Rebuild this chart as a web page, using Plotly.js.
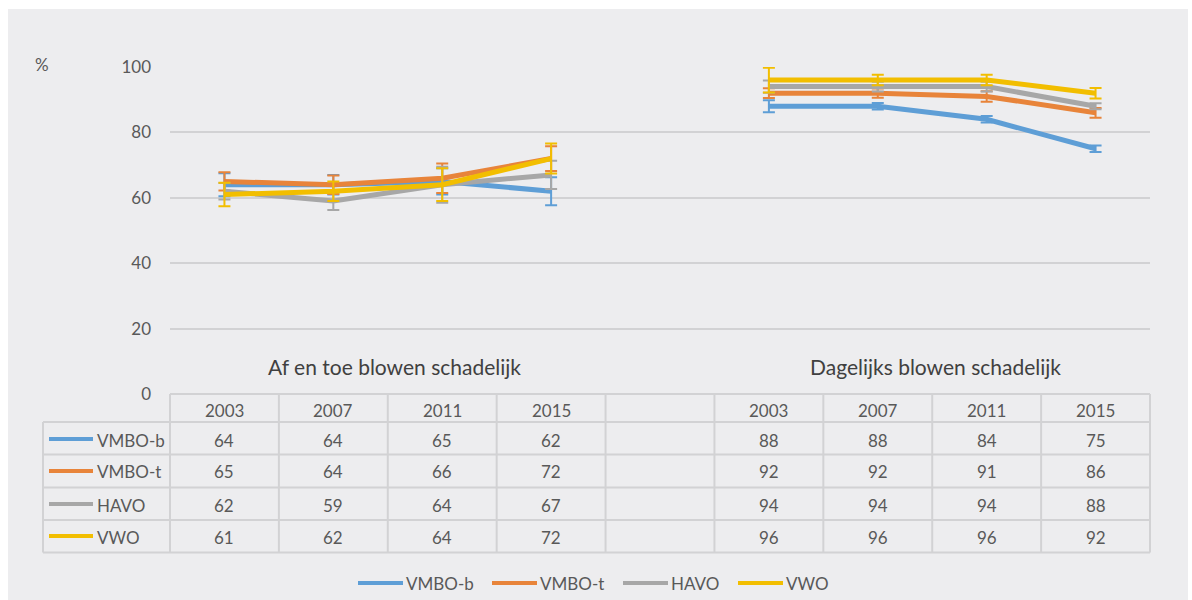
<!DOCTYPE html>
<html><head><meta charset="utf-8">
<script src="https://cdn.plot.ly/plotly-3.0.1.min.js"></script>
<style>html,body{margin:0;padding:0;background:#ffffff;}#chart{position:absolute;left:8px;top:9px;width:1180px;height:591px;}</style>
</head><body><div id="chart"></div>
<script>
// ---- data ----
const years = ['2003', '2007', '2011', '2015'];
const groupLabels = ['Af en toe blowen schadelijk', 'Dagelijks blowen schadelijk'];
const seriesNames = ['VMBO-b', 'VMBO-t', 'HAVO', 'VWO'];

const vmboB_afEnToe = [64, 64, 65, 62];
const vmboB_dagelijks = [88, 88, 84, 75];
const vmboT_afEnToe = [65, 64, 66, 72];
const vmboT_dagelijks = [92, 92, 91, 86];
const havo_afEnToe = [62, 59, 64, 67];
const havo_dagelijks = [94, 94, 94, 88];
const vwo_afEnToe = [61, 62, 64, 72];
const vwo_dagelijks = [96, 96, 96, 92];

const vmboB_errAf = [3.5, 3, 4, 4.3];
const vmboB_errDag = [1.8, 1, 1, 1];
const vmboT_errAf = [2.8, 2.8, 4.5, 3.8];
const vmboT_errDag = [1.5, 1.4, 1.6, 1.5];
const havo_errAf = [2.5, 2.7, 5.5, 4.3];
const havo_errDag = [1.9, 1.5, 1.5, 0.9];
const vwo_errAf = [3.6, 3, 5, 4.6];
const vwo_errDag = [3.8, 1.6, 1.6, 1.6];

const yTicks = [0, 20, 40, 60, 80, 100];

// ---- styles ----
const colors = ['#5E9ED6', '#E8843A', '#A7A7A7', '#F2BE00'];
const FONT = 'Lato, "Open Sans", sans-serif';
const TXT = '#595959';
const GRID = '#D2D2D4';

const afSeries = [vmboB_afEnToe, vmboT_afEnToe, havo_afEnToe, vwo_afEnToe];
const dagSeries = [vmboB_dagelijks, vmboT_dagelijks, havo_dagelijks, vwo_dagelijks];
const afErr = [vmboB_errAf, vmboT_errAf, havo_errAf, vwo_errAf];
const dagErr = [vmboB_errDag, vmboT_errDag, havo_errDag, vwo_errDag];

const nCat = years.length * 2 + 1;
const xIdx = Array.from({length: nCat}, (_, i) => i);
const colLabels = [...years, '', ...years];

const traces = seriesNames.map((name, s) => ({
  type: 'scatter', mode: 'lines', name: name, showlegend: false,
  x: xIdx,
  y: [...afSeries[s], null, ...dagSeries[s]],
  connectgaps: false,
  line: {color: colors[s], width: 5},
  error_y: {type: 'data', symmetric: true, array: [...afErr[s], 0, ...dagErr[s]],
            color: colors[s], thickness: 2, width: 6},
  hoverinfo: 'skip'
}));

// page-pixel helpers (plot area: x 170..1150, y 67..394)
const px = X => (X - 170) / 980;
const py = Y => (394 - Y) / 327;

const shapes = [];
const annotations = [];
function txt(o) {
  return Object.assign({showarrow: false, xanchor: 'center', yanchor: 'middle',
    font: {family: FONT, size: 17, color: TXT}}, o);
}

// table grid
const rowLines = [394, 422, 454.5, 487.5, 520, 552.5];
rowLines.forEach((Y, i) => shapes.push({type: 'line', xref: 'paper', yref: 'paper',
  x0: i === 0 ? 0 : px(43), x1: 1, y0: py(Y), y1: py(Y), line: {color: GRID, width: 2}}));
for (let k = 0; k <= nCat; k++) {
  shapes.push({type: 'line', xref: 'paper', yref: 'paper', x0: k / nCat, x1: k / nCat,
    y0: py(394), y1: py(552.5), line: {color: GRID, width: 2}});
}
shapes.push({type: 'line', xref: 'paper', yref: 'paper', x0: px(43), x1: px(43),
  y0: py(422), y1: py(552.5), line: {color: GRID, width: 2}});

// header labels
colLabels.forEach((t, i) => { if (t) annotations.push(txt({xref: 'x', yref: 'paper', x: i, y: py(410), text: t})); });

// rows
const rowCenters = [440, 472, 505, 537];
seriesNames.forEach((name, s) => {
  const Y = rowCenters[s];
  shapes.push({type: 'line', xref: 'paper', yref: 'paper', x0: px(49), x1: px(93), y0: py(Y - 1), y1: py(Y - 1),
    line: {color: colors[s], width: 4}});
  annotations.push(txt({xref: 'paper', yref: 'paper', x: px(95), y: py(Y), xanchor: 'left', text: name}));
  const vals = [...afSeries[s], null, ...dagSeries[s]];
  vals.forEach((v, i) => { if (v !== null) annotations.push(txt({xref: 'x', yref: 'paper', x: i, y: py(Y), text: String(v)})); });
});

// group labels
annotations.push(txt({xref: 'paper', yref: 'paper', x: px(394), y: py(366), text: groupLabels[0],
  font: {family: FONT, size: 21, color: '#404040'}}));
annotations.push(txt({xref: 'paper', yref: 'paper', x: px(935), y: py(366), text: groupLabels[1],
  font: {family: FONT, size: 21, color: '#404040'}}));

// % label
annotations.push(txt({xref: 'paper', yref: 'paper', x: px(42), y: py(64), text: '%'}));

// bottom legend
const legX = [[358, 403], [492, 537], [623, 668], [738, 783]];
seriesNames.forEach((name, s) => {
  shapes.push({type: 'line', xref: 'paper', yref: 'paper', x0: px(legX[s][0]), x1: px(legX[s][1]),
    y0: py(583), y1: py(583), line: {color: colors[s], width: 4}});
  annotations.push(txt({xref: 'paper', yref: 'paper', x: px(legX[s][1] + 1), y: py(583), xanchor: 'left', text: name}));
});

const layout = {
  width: 1180, height: 591,
  margin: {l: 162, r: 38, t: 58, b: 206},
  paper_bgcolor: '#EDEDEF', plot_bgcolor: 'rgba(0,0,0,0)',
  showlegend: false,
  xaxis: {range: [-0.5, nCat - 0.5], showgrid: false, zeroline: false, showticklabels: false,
          showline: false, fixedrange: true},
  yaxis: {range: [0, 100], tickvals: yTicks, showgrid: true, gridcolor: GRID, gridwidth: 2,
          zeroline: false, showline: false, ticks: '', ticklabelstandoff: 18,
          tickfont: {family: FONT, size: 17, color: TXT}, fixedrange: true},
  shapes: shapes,
  annotations: annotations,
  font: {family: FONT}
};

Plotly.newPlot('chart', traces, layout, {displayModeBar: false, staticPlot: true});
</script></body></html>
